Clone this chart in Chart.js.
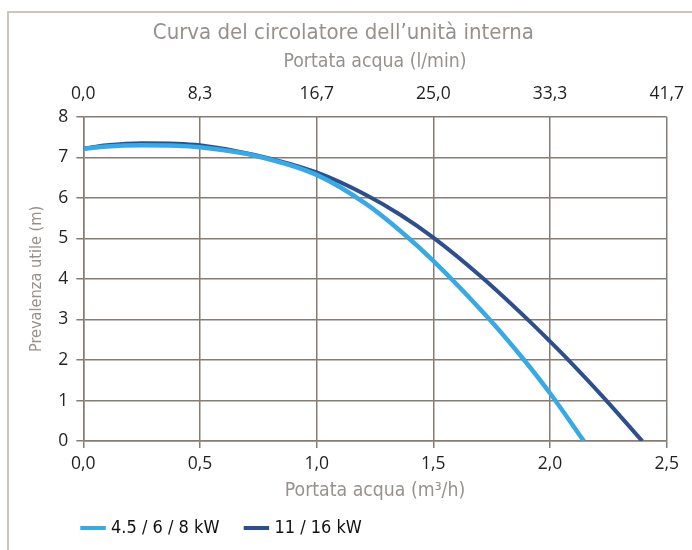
<!DOCTYPE html>
<html>
<head>
<meta charset="utf-8">
<title>Curva del circolatore</title>
<script src="https://cdn.jsdelivr.net/npm/chart.js@4.4.0/dist/chart.umd.min.js"></script>
<style>
  html, body { margin: 0; padding: 0; background: #ffffff; }
  #wrap { position: relative; width: 692px; height: 550px; overflow: hidden; }
  #frame {
    position: absolute; left: 7px; top: 11px; width: 720px; height: 580px;
    border-left: 2px solid #cbc5c0; border-top: 2px solid #cbc5c0;
  }
  #pumpChart { position: absolute; left: 0; top: 0; }
</style>
</head>
<body>
<div id="wrap">
  <div id="frame"></div>
  <canvas id="pumpChart" width="692" height="550"></canvas>
</div>
<script>
// Portata (m3/h) e prevalenza (m) per le due taglie
const flowSmall = [0, 0.1, 0.25, 0.4, 0.5, 0.73, 1.0, 1.21, 1.36, 1.5, 1.746, 1.889, 2.0, 2.145];
const headSmall = [7.21, 7.27, 7.30, 7.29, 7.25, 7.05, 6.57, 5.86, 5.18, 4.45, 2.97, 2.0, 1.18, 0];
const flowLarge = [0, 0.1, 0.25, 0.4, 0.5, 0.73, 1.0, 1.21, 1.36, 1.5, 1.704, 1.917, 2.0, 2.074, 2.229, 2.395];
const headLarge = [7.22, 7.30, 7.35, 7.34, 7.30, 7.07, 6.63, 6.08, 5.58, 5.02, 4.06, 2.93, 2.46, 2.03, 1.08, 0];

const seriesNames = ['4.5 / 6 / 8 kW', '11 / 16 kW'];
const seriesColors = ['#38a9e4', '#2d4f8e'];

// assi
const flowRange = [0, 2.5];
const flowStep = 0.5;
const headRange = [0, 8];
const litreTickLabels = ['0,0', '8,3', '16,7', '25,0', '33,3', '41,7'];

const narrowFont = "'Liberation Sans Narrow', 'DejaVu Sans Condensed', 'Liberation Sans', sans-serif";
const tickFont = "'Open Sans', 'Noto Sans', sans-serif";
const gridColor = '#877c74';
const titleGray = '#96918d';
const tickColor = '#231f20';

function toPoints(xs, ys) {
    return xs.map((x, i) => ({ x: x, y: ys[i] }));
}

// legend row sits under the axis title, aligned with the plot's left edge
const legendPlacement = {
    id: 'legendPlacement',
    afterLayout(chart) {
        const lg = chart.legend;
        if (!lg) return;
        const pad = lg.options.labels.padding;
        const half = lg.options.labels.font.size / 2;
        lg.left = chart.chartArea.left + 0.7 - pad;
        lg.top = chart.chartArea.bottom + 87 - pad - half;
        lg.bottom = chart.height;
        lg.height = lg.bottom - lg.top;
    }
};

new Chart(document.getElementById('pumpChart'), {
    type: 'line',
    data: {
        datasets: [
            {
                label: seriesNames[0],
                data: toPoints(flowSmall, headSmall),
                borderColor: seriesColors[0],
                backgroundColor: seriesColors[0],
                borderWidth: 4.5,
                pointRadius: 0,
                cubicInterpolationMode: 'monotone',
                fill: false
            },
            {
                label: seriesNames[1],
                data: toPoints(flowLarge, headLarge),
                borderColor: seriesColors[1],
                backgroundColor: seriesColors[1],
                borderWidth: 4,
                pointRadius: 0,
                cubicInterpolationMode: 'monotone',
                fill: false
            }
        ]
    },
    options: {
        responsive: false,
        animation: false,
        layout: {
            autoPadding: false,
            padding: { left: 20, right: 25.3, top: 0, bottom: 46.4 }
        },
        plugins: {
            tooltip: { enabled: false },
            title: {
                display: true,
                text: 'Curva del circolatore dell\u2019unità interna',
                color: titleGray,
                font: { family: narrowFont, size: 22, weight: 'normal' },
                padding: { top: 19.8, bottom: 0 }
            },
            legend: {
                position: 'bottom',
                align: 'start',
                maxHeight: 1,
                labels: {
                    color: '#111111',
                    font: { family: narrowFont, size: 18 },
                    usePointStyle: true,
                    boxWidth: 18,
                    boxHeight: 18,
                    padding: 28,
                    generateLabels(chart) {
                        const items = Chart.defaults.plugins.legend.labels.generateLabels(chart);
                        items.forEach(it => {
                            it.pointStyle = 'line';
                            it.lineWidth = 4;
                            it.lineCap = 'butt';
                            it.strokeStyle = seriesColors[it.datasetIndex];
                        });
                        return items;
                    }
                }
            }
        },
        scales: {
            x: {
                type: 'linear',
                position: 'bottom',
                min: flowRange[0],
                max: flowRange[1],
                ticks: {
                    stepSize: flowStep,
                    padding: 5,
                    color: tickColor,
                    font: { family: tickFont, size: 17.5 },
                    maxRotation: 0,
                    callback: v => v.toFixed(1).replace('.', ',')
                },
                grid: { color: gridColor, lineWidth: 1.5, tickLength: 7 },
                border: { color: gridColor, width: 1.5 },
                title: {
                    display: true,
                    text: 'Portata acqua (m³/h)',
                    color: titleGray,
                    font: { family: narrowFont, size: 19.3 },
                    padding: { top: 0.4, bottom: 0 }
                }
            },
            x2: {
                type: 'linear',
                position: 'top',
                min: flowRange[0],
                max: flowRange[1],
                ticks: {
                    stepSize: flowStep,
                    padding: 0,
                    color: tickColor,
                    font: { family: tickFont, size: 17.5 },
                    maxRotation: 0,
                    callback: (v, i) => litreTickLabels[i]
                },
                // hidden grid, its tick length only spaces the labels off the plot
                grid: { display: false, drawTicks: true, tickLength: 12.5 },
                border: { display: false },
                title: {
                    display: true,
                    text: 'Portata acqua (l/min)',
                    color: titleGray,
                    font: { family: narrowFont, size: 19.3 },
                    padding: { top: 4.2, bottom: 9.9 }
                }
            },
            y: {
                min: headRange[0],
                max: headRange[1],
                ticks: {
                    stepSize: 1,
                    padding: 8,
                    color: tickColor,
                    font: { family: tickFont, size: 17.5 }
                },
                grid: { color: gridColor, lineWidth: 1.5, tickLength: 7 },
                border: { color: gridColor, width: 1.5 },
                title: {
                    display: true,
                    text: 'Prevalenza utile (m)',
                    color: titleGray,
                    font: { family: narrowFont, size: 16.2 },
                    padding: { top: 6.7, bottom: 4.2 }
                }
            }
        }
    },
    plugins: [legendPlacement]
});
</script>
</body>
</html>
